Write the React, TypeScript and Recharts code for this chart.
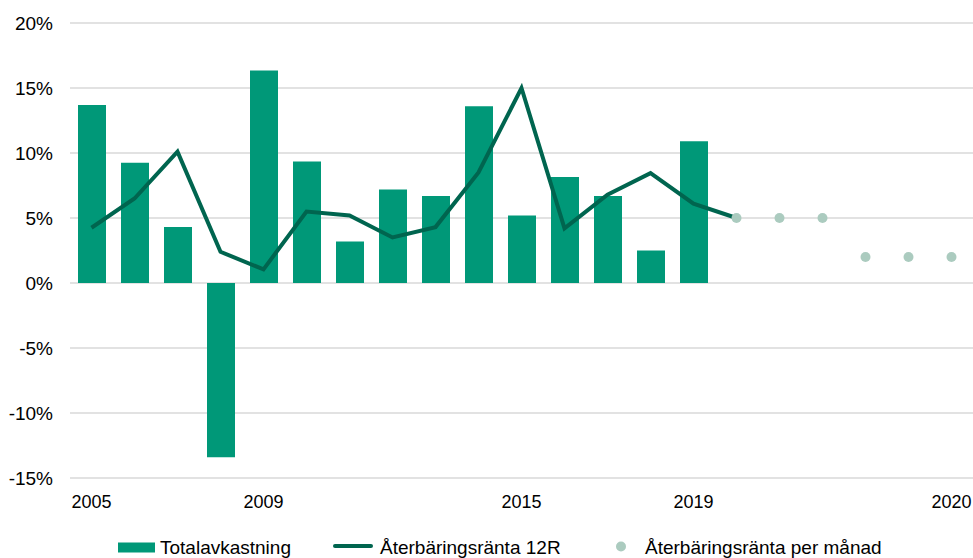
import React from 'react';
import { ComposedChart, Bar, Line, XAxis, YAxis, CartesianGrid, Legend } from 'recharts';

const categories = [
  '2005', '2006', '2007', '2008', '2009', '2010', '2011', '2012', '2013', '2014',
  '2015', '2016', '2017', '2018', '2019',
  '2020-01', '2020-02', '2020-03', '2020-04', '2020-05', '2020-06',
];
const totalavkastning = [13.7, 9.25, 4.3, -13.4, 16.35, 9.35, 3.2, 7.2, 6.7, 13.6, 5.2, 8.15, 6.7, 2.5, 10.9];
const ranta12R = [4.25, 6.5, 10.1, 2.4, 1.05, 5.5, 5.2, 3.5, 4.3, 8.5, 15.0, 4.2, 6.8, 8.45, 6.1, 5.0];
const rantaPerManad: (number | null)[] = [
  null, null, null, null, null, null, null, null, null, null, null, null, null, null, null,
  5.0, 5.0, 5.0, 2.0, 2.0, 2.0,
];
const tickCategories = ['2005', '2009', '2015', '2019', '2020-06'];
const tickLabels = ['2005', '2009', '2015', '2019', '2020'];
const yTicks = [-15, -10, -5, 0, 5, 10, 15, 20];

const BAR_COLOR = '#009878';
const LINE_COLOR = '#00654f';
const DOT_COLOR = '#abcbbf';
const FONT = '"Liberation Sans", Arial, Helvetica, sans-serif';

const data = categories.map((c, i) => ({
  cat: c,
  total: i < totalavkastning.length ? totalavkastning[i] : null,
  r12: i < ranta12R.length ? ranta12R[i] : null,
  month: rantaPerManad[i],
}));

const LegendContent = () => (
  <svg width={973} height={28} style={{ display: 'block' }}>
    <rect x={118} y={12.5} width={37} height={10} fill={BAR_COLOR} />
    <text x={160} y={24} fontSize={19} fontFamily={FONT} fill="#000">Totalavkastning</text>
    <line x1={335} x2={371} y1={16} y2={16} stroke={LINE_COLOR} strokeWidth={4} strokeLinecap="round" />
    <text x={380} y={24} fontSize={19} fontFamily={FONT} fill="#000">Återbäringsränta 12R</text>
    <circle cx={621} cy={16.5} r={5} fill={DOT_COLOR} />
    <text x={645} y={24} fontSize={19} fontFamily={FONT} fill="#000">Återbäringsränta per månad</text>
  </svg>
);

export default function App() {
  return (
    <div
      style={{
        position: 'absolute',
        left: 0,
        top: 0,
        width: 973,
        height: 558,
        overflow: 'hidden',
        background: '#fff',
        fontFamily: FONT,
      }}
    >
      <ComposedChart
        width={973}
        height={558}
        data={data}
        margin={{ top: 23, right: 0, left: 0, bottom: 20 }}
      >
        <CartesianGrid horizontal vertical={false} stroke="#d9d9d9" strokeWidth={1.5} />
        <XAxis
          dataKey="cat"
          ticks={tickCategories}
          interval={0}
          tickFormatter={(v: string) => {
            const i = tickCategories.indexOf(v);
            return i >= 0 ? tickLabels[i] : '';
          }}
          axisLine={false}
          tickLine={false}
          tickSize={0}
          tickMargin={17}
          height={32}
          tick={{ fontSize: 18, fill: '#000', fontFamily: FONT }}
        />
        <YAxis
          domain={[-15, 20]}
          ticks={yTicks}
          interval={0}
          tickFormatter={(v: number) => `${v}%`}
          axisLine={false}
          tickLine={false}
          tickSize={0}
          tickMargin={17}
          width={70}
          tick={{ fontSize: 19, fill: '#000', fontFamily: FONT }}
        />
        <Bar dataKey="total" fill={BAR_COLOR} barSize={28} isAnimationActive={false} />
        <Line
          dataKey="r12"
          stroke={LINE_COLOR}
          strokeWidth={4}
          dot={false}
          activeDot={false}
          type="linear"
          connectNulls={false}
          isAnimationActive={false}
        />
        <Line
          dataKey="month"
          stroke="none"
          dot={{ r: 5, fill: DOT_COLOR, stroke: 'none' }}
          activeDot={false}
          type="linear"
          isAnimationActive={false}
        />
        <Legend
          verticalAlign="bottom"
          content={<LegendContent />}
          wrapperStyle={{ left: 0, bottom: 0, width: 973, height: 28 }}
        />
      </ComposedChart>
    </div>
  );
}
